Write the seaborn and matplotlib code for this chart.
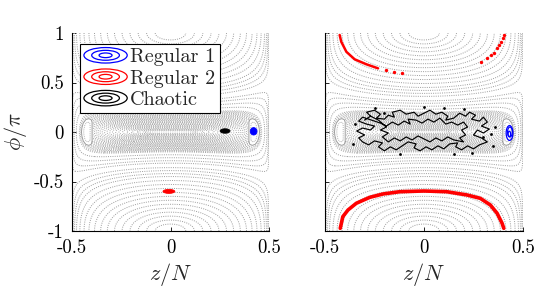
import numpy as np
import pandas as pd
import matplotlib
matplotlib.use('Agg')
import matplotlib.pyplot as plt
import seaborn as sns
from matplotlib.patches import Ellipse
from matplotlib.lines import Line2D
from matplotlib.legend_handler import HandlerBase

# ---- data ----
LAMBDA = 1.0  # interaction parameter of the background map

# background orbits, labelled by where they cross z=0 (phi/pi)
arc_phi0 = [0.36, 0.39, 0.42, 0.45, 0.49, 0.53, 0.57, 0.61, 0.65, 0.69,
            0.73, 0.77, 0.81, 0.85, 0.89, 0.93]
layer_phi0 = [0.23, 0.26, 0.29, 0.315]
sea_phi0 = list(np.arange(0.012, 0.205, 0.007))

# regular islands near the edges (outline)
isl_r_z = [0.398, 0.398, 0.403, 0.415, 0.430, 0.443, 0.450, 0.452, 0.450, 0.443, 0.430, 0.415, 0.403, 0.398]
isl_r_phi = [-0.10, 0.10, 0.125, 0.135, 0.125, 0.09, 0.04, 0.0, -0.04, -0.09, -0.125, -0.135, -0.125, -0.10]
isl_l_z = [-0.398, -0.398, -0.403, -0.415, -0.430, -0.443, -0.450, -0.452, -0.450, -0.443, -0.430, -0.415, -0.403, -0.398]
isl_l_phi = isl_r_phi

# left panel: short-time trajectories (blobs)
blob_z = [0.422, 0.277, -0.008]
blob_phi = [0.007, 0.01, -0.60]
blob_w = [0.034, 0.05, 0.06]
blob_h = [0.075, 0.045, 0.04]
blob_col = ['blue', 'black', 'red']

# right panel: Regular 1 (blue)
blue_z = [0.432, 0.434, 0.431]
blue_phi = [-0.01, 0.0, -0.02]
blue_w = [0.034, 0.024, 0.013]
blue_h = [0.15, 0.10, 0.055]

# right panel: Regular 2 (red)
red_bot_z = [-0.423, -0.41, -0.384, -0.342, -0.274, -0.207, -0.122, 0.0, 0.115,
             0.217, 0.284, 0.335, 0.369, 0.394, 0.403]
red_bot_phi = [-0.973, -0.855, -0.788, -0.72, -0.66, -0.626, -0.603, -0.596, -0.603,
               -0.636, -0.67, -0.737, -0.82, -0.92, -0.973]
red_top_z = [-0.426, -0.418, -0.392, -0.35, -0.291, -0.232]
red_top_phi = [0.98, 0.912, 0.81, 0.734, 0.684, 0.643]
red_dot_z = [-0.19, -0.15, -0.11, 0.29, 0.32, 0.34, 0.355, 0.37, 0.38, 0.39, 0.398, 0.403]
red_dot_phi = [0.625, 0.61, 0.595, 0.705, 0.745, 0.775, 0.80, 0.845, 0.875, 0.91, 0.95, 0.98]

# right panel: Chaotic (black), one long tangled trajectory
chaos_z = [-0.30, -0.27, -0.29, -0.25, -0.22, -0.24, -0.20, -0.18, -0.15, -0.16, -0.12, -0.09,
           -0.05, -0.03, 0.0, 0.03, 0.06, 0.09, 0.12, 0.11, 0.15, 0.18, 0.21, 0.23, 0.26, 0.24,
           0.28, 0.30, 0.32,
           0.29, 0.33, 0.30, 0.27, 0.25, 0.29, 0.32, 0.28,
           0.25, 0.22, 0.19, 0.16, 0.17, 0.13, 0.10, 0.07, 0.04, 0.01, -0.02, -0.05, -0.04, -0.08,
           -0.11, -0.14, -0.17, -0.20, -0.23, -0.21, -0.25, -0.28, -0.31,
           -0.33, -0.30, -0.34, -0.31, -0.27, -0.25, -0.29, -0.33, -0.31,
           -0.22, -0.19, -0.16, -0.13, -0.10, -0.07, -0.08, -0.04, -0.01, 0.02, 0.05, 0.08, 0.11,
           0.14, 0.17, 0.20, 0.22, 0.19, 0.21, 0.18, 0.20, 0.15, 0.12, 0.09, 0.06, 0.03, 0.0,
           -0.03, -0.06, -0.09, -0.12, -0.15, -0.18, -0.21, -0.18, -0.22, -0.19, -0.23, -0.27]
chaos_phi = [0.12, 0.16, 0.20, 0.22, 0.18, 0.14, 0.13, 0.17, 0.15, 0.20, 0.22, 0.18,
             0.20, 0.16, 0.19, 0.22, 0.18, 0.20, 0.16, 0.12, 0.14, 0.19, 0.16, 0.20, 0.17, 0.13,
             0.11, 0.15, 0.10,
             0.06, 0.03, -0.01, 0.02, -0.03, -0.06, -0.10, -0.13,
             -0.17, -0.14, -0.18, -0.15, -0.11, -0.12, -0.17, -0.14, -0.18, -0.15, -0.19, -0.16, -0.12, -0.10,
             -0.14, -0.18, -0.15, -0.19, -0.15, -0.11, -0.09, -0.13, -0.10,
             -0.06, -0.03, 0.01, 0.04, 0.02, 0.06, 0.08, 0.11, 0.15,
             0.09, 0.06, 0.10, 0.07, 0.11, 0.08, 0.13, 0.12, 0.09, 0.13, 0.10, 0.14, 0.08,
             0.10, 0.07, 0.10, 0.05, 0.02, -0.03, -0.06, -0.10, -0.08, -0.05, -0.09, -0.06, -0.10, -0.07,
             -0.04, -0.08, -0.05, -0.09, -0.06, -0.10, -0.05, -0.01, 0.02, 0.05, 0.12, 0.16]
chaos_dot_z = [-0.36, 0.36, 0.35, 0.10, -0.25, 0.24, 0.15, 0.0, -0.20, 0.30, -0.35, 0.34, -0.12, 0.20]
chaos_dot_phi = [-0.12, 0.05, -0.14, 0.24, 0.24, -0.21, -0.22, 0.25, 0.19, -0.05, 0.08, -0.02, -0.22, 0.23]

x_ticks = [-0.5, 0, 0.5]
x_ticklabels = ['-0.5', '0', '0.5']
y_ticks = [-1, -0.5, 0, 0.5, 1]
y_ticklabels = ['-1', '-0.5', '0', '0.5', '1']
legend_labels = ['Regular 1', 'Regular 2', 'Chaotic']
legend_colors = ['blue', 'red', 'black']

# ---- style ----
sns.set_theme(style='white')
plt.rcParams['font.family'] = ['cmr10', 'DejaVu Serif']
plt.rcParams['mathtext.fontset'] = 'cm'
plt.rcParams['axes.unicode_minus'] = False
plt.rcParams['axes.formatter.use_mathtext'] = True

GRAY = '#9c9c9c'
DOTS = (0, (1, 1.3))


class ContourHandler(HandlerBase):
    def create_artists(self, legend, orig_handle, xdescent, ydescent, width, height, fontsize, trans):
        cx = width / 2 - xdescent
        cy = height / 2 - ydescent
        arts = []
        for f in (1.0, 0.64, 0.3):
            arts.append(Ellipse((cx, cy), width * f, height * 1.05 * f, fill=False,
                                edgecolor=orig_handle.get_color(), lw=0.9, transform=trans))
        return arts


def background(ax):
    zg = np.linspace(-0.5, 0.5, 500)
    pg = np.linspace(-1, 1, 900)
    Z, P = np.meshgrid(zg, pg)
    zz = np.clip(2 * Z, -1, 1)
    H = -LAMBDA / 2 * zz ** 2 - np.sqrt(1 - zz ** 2) * np.cos(np.pi * P)
    lv = sorted(-np.cos(np.pi * np.array(arc_phi0 + layer_phi0)))
    ax.contour(Z, P, H, levels=lv, colors=GRAY, linewidths=0.7, linestyles=[DOTS])
    lv2 = sorted(-np.cos(np.pi * np.array(sea_phi0)))
    ax.contour(Z, P, H, levels=lv2, colors='#a8a8a8', linewidths=0.7, linestyles=[DOTS])
    for iz, ip in [(isl_r_z, isl_r_phi), (isl_l_z, isl_l_phi)]:
        ax.fill(iz, ip, color='white', zorder=2)
        ax.plot(iz, ip, color=GRAY, lw=0.7, zorder=3)
        cz = np.mean(iz)
        ax.plot(cz + (np.array(iz) - cz) * 0.6, np.array(ip) * 0.75, color=GRAY, lw=0.6, ls=DOTS, zorder=3)


def style(ax, ylab):
    ax.set_xlim(-0.5, 0.5)
    ax.set_ylim(-1, 1)
    ax.set_xticks(x_ticks)
    ax.set_xticklabels(x_ticklabels)
    ax.set_yticks(y_ticks)
    if ylab:
        ax.set_yticklabels(y_ticklabels)
        ax.set_ylabel(r'$\phi/\pi$', fontsize=16, labelpad=3)
    else:
        ax.set_yticklabels([])
    ax.set_xlabel(r'$z/N$', fontsize=16, labelpad=3)
    ax.tick_params(direction='in', length=3, width=0.6, labelsize=13.5, pad=6,
                   left=True, bottom=True, colors='black')
    for s in ['top', 'right']:
        ax.spines[s].set_visible(False)
    for s in ['left', 'bottom']:
        ax.spines[s].set_color('black')
        ax.spines[s].set_linewidth(0.8)
        ax.spines[s].set_zorder(5)


fig = plt.figure(figsize=(5.42, 2.94), dpi=100)
ax1 = fig.add_axes([72 / 542, 1 - 231 / 294, 197 / 542, 198 / 294])
ax2 = fig.add_axes([325 / 542, 1 - 231 / 294, 198 / 542, 198 / 294])

# left panel
background(ax1)
for z, p, w, h, c in zip(blob_z, blob_phi, blob_w, blob_h, blob_col):
    ax1.add_patch(Ellipse((z, p), w, h, facecolor=c, edgecolor=c, lw=0.6, zorder=4))
style(ax1, True)
handles = [Line2D([], [], color=c, label=l) for c, l in zip(legend_colors, legend_labels)]
leg = ax1.legend(handles=handles, loc='upper left', bbox_to_anchor=(0.04, 0.945),
                 borderaxespad=0, handler_map={Line2D: ContourHandler()},
                 fontsize=14.5, handlelength=2.15, handleheight=0.75, handletextpad=0.15,
                 labelspacing=0.15, borderpad=0.2, fancybox=False, framealpha=1,
                 edgecolor='black')
leg.get_frame().set_linewidth(0.8)
leg.set_zorder(10)

# right panel
background(ax2)
for z, p, w, h in zip(blue_z, blue_phi, blue_w, blue_h):
    ax2.add_patch(Ellipse((z, p), w, h, angle=0, fill=False, edgecolor='blue', lw=0.9, zorder=4))
sns.lineplot(x=chaos_z, y=chaos_phi, sort=False, estimator=None, color='black', lw=0.85, ax=ax2, zorder=4)
sns.scatterplot(x=chaos_dot_z, y=chaos_dot_phi, color='black', s=4, linewidth=0, ax=ax2, zorder=4)
sns.lineplot(x=red_bot_z, y=red_bot_phi, sort=False, estimator=None, color='red', lw=2.6, ax=ax2, zorder=4)
sns.lineplot(x=red_top_z, y=red_top_phi, sort=False, estimator=None, color='red', lw=1.8, ax=ax2, zorder=4)
sns.scatterplot(x=red_dot_z, y=red_dot_phi, color='red', s=6, linewidth=0, ax=ax2, zorder=4)
style(ax2, False)

fig.savefig('out.png', dpi=100)
